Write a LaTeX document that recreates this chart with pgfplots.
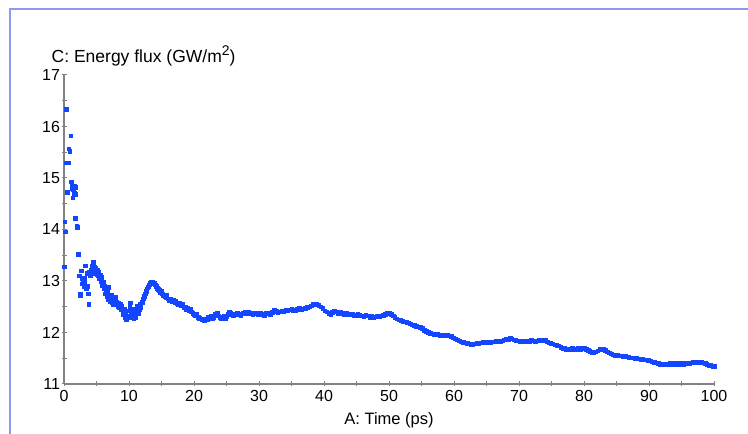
\documentclass[border=0pt]{standalone}
\usepackage{pgfplots}
\pgfplotsset{compat=1.18}
\usepackage{fontspec}
\setmainfont{Liberation Sans}
\definecolor{framec}{RGB}{140,155,240}
\definecolor{ptc}{RGB}{20,70,255}
\definecolor{axc}{RGB}{130,130,130}
\begin{document}
\begin{tikzpicture}[x=1bp,y=1bp]
\path[use as bounding box] (0,0) rectangle (748,434);
\draw[framec, line width=1.6bp] (10,0) -- (10,425) -- (748,425);
\begin{axis}[
  at={(64bp,50bp)}, anchor=south west,
  scale only axis, width=650bp, height=309bp,
  xmin=0, xmax=100, ymin=11, ymax=17,
  axis lines*=left,
  axis line style={axc, line width=1.4bp},
  every tick/.style={axc, line width=1bp},
  tick align=center,
  major tick length=5bp, minor tick length=5bp,
  xtick={0,10,...,100}, minor xtick={5,15,...,95},
  ytick={11,...,17}, minor ytick={11.5,12.5,...,16.5},
  /pgf/number format/assume math mode=true,
  tick label style={font=\fontsize{16bp}{19bp}\selectfont, text=black},
  xticklabel style={yshift=0bp},
  yticklabel style={xshift=2bp},
  xlabel={A: Time (ps)},
  xlabel style={font=\fontsize{16.5bp}{19bp}\selectfont, at={(axis description cs:0.5,0)}, anchor=base, yshift=-41bp},
  clip=false,
]
\addplot[only marks, mark=square*, mark size=1.8bp, color=ptc, mark options={draw=none, fill=ptc}] table {
x y
0.05 13.28
0.1 14.15
0.15 13.96
0.25 15.30
0.3 16.33
0.45 15.30
0.5 14.72
0.6 15.30
0.75 15.57
0.85 15.52
1.0 15.82
1.1 14.93
1.2 14.88
1.3 14.80
1.35 14.62
1.45 14.78
1.55 14.85
1.6 14.70
1.7 14.82
1.75 14.22
1.8 14.68
1.95 14.06
2.05 14.04
2.2 13.52
2.35 13.10
2.45 12.75
2.5 12.72
2.6 13.20
2.7 13.05
2.8 12.95
2.9 13.02
3.0 12.90
3.1 13.05
3.2 12.98
3.3 13.30
3.45 12.85
3.55 13.15
3.65 12.90
3.7 12.75
3.8 12.55
3.9 13.18
4.0 13.10
4.1 13.22
4.2 13.15
4.35 13.30
4.45 13.37
4.55 13.20
4.6 13.28
4.7 13.15
4.8 13.25
4.9 13.20
5.0 13.12
5.1 13.22
5.2 13.10
5.35 13.18
5.45 13.05
5.55 13.12
5.7 13.00
5.8 13.08
5.9 12.92
6.0 12.98
6.15 12.85
6.25 12.90
6.35 12.75
6.45 12.82
6.6 12.70
6.7 12.78
6.8 12.65
6.9 12.88
7.0 12.68
7.1 12.60
7.25 12.72
7.35 12.58
7.5 12.65
7.6 12.55
7.75 12.62
7.85 12.68
8.0 12.55
8.1 12.60
8.25 12.50
8.4 12.58
8.5 12.48
8.65 12.55
8.8 12.45
8.9 12.52
9.0 12.40
9.15 12.35
9.25 12.45
9.4 12.30
9.5 12.38
9.6 12.25
9.75 12.33
9.85 12.42
10.0 12.30
10.1 12.50
10.2 12.58
10.35 12.40
10.45 12.32
10.6 12.45
10.7 12.27
10.8 12.38
10.95 12.45
11.05 12.30
11.2 12.40
11.3 12.52
11.45 12.38
11.55 12.45
11.7 12.55
11.8 12.48
11.95 12.60
12.1 12.58
12.2 12.66
12.35 12.70
12.5 12.75
12.6 12.80
12.75 12.84
12.9 12.88
13.0 12.90
13.15 12.93
13.3 12.96
13.45 12.98
13.6 12.98
13.75 12.97
13.9 12.96
14.05 12.93
14.2 12.90
14.35 12.86
14.5 12.84
14.65 12.82
14.8 12.78
15.0 12.80
15.15 12.75
15.3 12.72
15.5 12.70
15.65 12.68
15.8 12.72
16.0 12.66
16.2 12.62
16.4 12.65
16.6 12.60
16.8 12.63
17.0 12.58
17.2 12.62
17.4 12.57
17.6 12.55
17.8 12.58
18.0 12.52
18.2 12.55
18.4 12.48
18.6 12.50
18.8 12.45
19.0 12.48
19.2 12.42
19.4 12.45
19.6 12.40
19.8 12.38
20.0 12.36
20.2 12.33
20.4 12.35
20.6 12.30
20.8 12.28
21.0 12.27
21.2 12.25
21.4 12.27
21.6 12.24
21.8 12.27
22.0 12.25
22.2 12.30
22.4 12.27
22.6 12.33
22.8 12.28
23.0 12.30
23.2 12.35
23.4 12.33
23.6 12.37
23.8 12.33
24.0 12.30
24.2 12.27
24.4 12.30
24.6 12.33
24.8 12.28
25.0 12.32
25.2 12.36
25.4 12.40
25.6 12.38
25.8 12.35
26.0 12.33
26.3 12.36
26.6 12.38
26.9 12.35
27.2 12.34
27.5 12.37
27.8 12.40
28.1 12.38
28.4 12.40
28.7 12.37
29.0 12.36
29.3 12.38
29.6 12.37
29.9 12.35
30.2 12.37
30.5 12.36
30.8 12.34
31.1 12.37
31.4 12.38
31.7 12.36
32.0 12.39
32.3 12.43
32.6 12.41
32.9 12.39
33.2 12.40
33.5 12.42
33.8 12.41
34.1 12.43
34.4 12.42
34.7 12.44
35.0 12.46
35.3 12.42
35.6 12.43
35.9 12.45
36.2 12.48
36.5 12.44
36.8 12.46
37.1 12.47
37.4 12.49
37.7 12.50
38.0 12.52
38.3 12.55
38.6 12.56
38.9 12.55
39.2 12.53
39.5 12.50
39.8 12.47
40.1 12.42
40.4 12.40
40.7 12.38
41.0 12.36
41.3 12.39
41.6 12.42
41.9 12.40
42.2 12.38
42.5 12.40
42.8 12.37
43.1 12.36
43.4 12.37
43.7 12.35
44.0 12.36
44.3 12.35
44.6 12.33
44.9 12.34
45.2 12.36
45.5 12.34
45.8 12.33
46.1 12.32
46.4 12.34
46.7 12.33
47.0 12.30
47.3 12.32
47.6 12.30
47.9 12.31
48.2 12.33
48.5 12.31
48.8 12.33
49.1 12.34
49.4 12.36
49.7 12.37
50.0 12.38
50.3 12.36
50.6 12.33
50.9 12.30
51.2 12.27
51.5 12.25
51.8 12.24
52.1 12.22
52.4 12.21
52.7 12.20
53.0 12.19
53.3 12.17
53.6 12.15
53.9 12.14
54.2 12.12
54.5 12.11
54.8 12.10
55.1 12.08
55.4 12.05
55.7 12.02
56.0 12.00
56.3 11.99
56.6 11.98
56.9 11.97
57.2 11.96
57.5 11.97
57.8 11.95
58.1 11.94
58.4 11.95
58.7 11.96
59.0 11.95
59.3 11.94
59.6 11.93
59.9 11.90
60.2 11.88
60.5 11.86
60.8 11.84
61.1 11.82
61.4 11.81
61.7 11.80
62.0 11.79
62.3 11.78
62.6 11.77
62.9 11.77
63.2 11.78
63.5 11.80
63.8 11.79
64.1 11.80
64.4 11.81
64.7 11.80
65.0 11.81
65.3 11.82
65.6 11.81
65.9 11.82
66.2 11.82
66.5 11.83
66.8 11.84
67.1 11.83
67.4 11.84
67.7 11.86
68.0 11.88
68.3 11.87
68.6 11.89
68.9 11.88
69.2 11.86
69.5 11.85
69.8 11.84
70.1 11.83
70.4 11.83
70.7 11.82
71.0 11.83
71.3 11.84
71.6 11.83
71.9 11.85
72.2 11.84
72.5 11.83
72.8 11.84
73.1 11.85
73.4 11.84
73.7 11.86
74.0 11.85
74.3 11.82
74.6 11.80
74.9 11.79
75.2 11.78
75.5 11.76
75.8 11.75
76.1 11.74
76.4 11.72
76.7 11.70
77.0 11.69
77.3 11.68
77.6 11.67
77.9 11.68
78.2 11.69
78.5 11.68
78.8 11.68
79.1 11.69
79.4 11.68
79.7 11.69
80.0 11.69
80.3 11.68
80.6 11.66
80.9 11.64
81.2 11.62
81.5 11.62
81.8 11.63
82.1 11.65
82.4 11.67
82.7 11.68
83.0 11.67
83.3 11.66
83.6 11.63
83.9 11.61
84.2 11.59
84.5 11.57
84.8 11.56
85.1 11.56
85.4 11.55
85.7 11.55
86.0 11.54
86.3 11.54
86.6 11.53
86.9 11.52
87.2 11.51
87.5 11.51
87.8 11.50
88.1 11.50
88.4 11.49
88.7 11.48
89.0 11.48
89.3 11.47
89.6 11.47
89.9 11.46
90.2 11.45
90.5 11.43
90.8 11.42
91.1 11.41
91.4 11.40
91.7 11.39
92.0 11.39
92.3 11.38
92.6 11.39
92.9 11.39
93.2 11.40
93.5 11.39
93.8 11.40
94.1 11.39
94.4 11.40
94.7 11.39
95.0 11.40
95.3 11.39
95.6 11.40
95.9 11.41
96.2 11.40
96.5 11.41
96.8 11.42
97.1 11.41
97.4 11.42
97.7 11.43
98.0 11.42
98.3 11.41
98.6 11.40
98.9 11.39
99.2 11.37
99.5 11.36
99.8 11.35
100.0 11.34
};
\end{axis}
\node[anchor=base west, inner sep=0pt, font=\fontsize{17.5bp}{20bp}\selectfont] at (51.5,371) {C: Energy flux (GW/m\raisebox{0.45em}{\fontsize{14bp}{16bp}\selectfont 2})};
\end{tikzpicture}
\end{document}
